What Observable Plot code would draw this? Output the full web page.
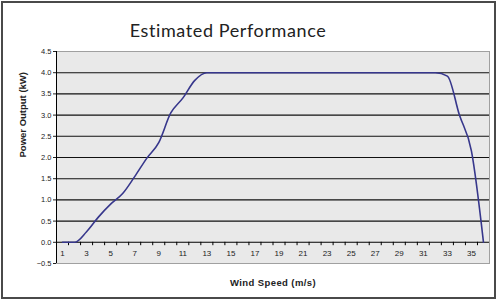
<!DOCTYPE html>
<html><head><meta charset="utf-8">
<script src="https://cdn.jsdelivr.net/npm/d3@7"></script>
<script src="https://cdn.jsdelivr.net/npm/@observablehq/plot@0.6"></script>
<style>
body{margin:0;background:#fff}
#chart svg{display:block;outline:2px solid #4a4a4a;outline-offset:-3px;background:#fff}
.ttl text{letter-spacing:0.6px}
.xl text{letter-spacing:0.4px}
</style>
</head><body><div id="chart"></div>
<script>
const windSpeed = [1,2,3,4,5,6,7,8,9,10,11,12,13,14,15,16,17,18,19,20,21,22,23,24,25,26,27,28,29,30,31,32,33,34,35,36];
const power = [0,0,0.25,0.6,0.9,1.15,1.55,1.98,2.35,3.05,3.4,3.82,4.0,4.0,4.0,4.0,4.0,4.0,4.0,4.0,4.0,4.0,4.0,4.0,4.0,4.0,4.0,4.0,4.0,4.0,4.0,4.0,3.92,3.0,2.15,0];
const xTickLabels = [1,3,5,7,9,11,13,15,17,19,21,23,25,27,29,31,33,35];
const yTicks = [-0.5,0,0.5,1,1.5,2,2.5,3,3.5,4,4.5];
const gridY = [0.5,1,1.5,2,2.5,3,3.5,4];
const title = "Estimated Performance";
const xTitle = "Wind Speed (m/s)";
const yTitle = "Power Output (kW)";

const data = windSpeed.map((w,i)=>({w, p: power[i]}));
const boundaries = windSpeed.map(w => w + 0.5).slice(0, -1);

const chart = Plot.plot({
  width: 497, height: 300,
  marginLeft: 56, marginRight: 8, marginTop: 51, marginBottom: 37,
  x: {domain: [0.5, 36.5], axis: null},
  y: {domain: [-0.5, 4.5], axis: null},
  style: {fontFamily: "'Liberation Sans', Arial, sans-serif", background: "#fff"},
  marks: [
    Plot.frame({fill: "#e9e9e9", stroke: "#a0a0a0"}),
    Plot.ruleY(gridY, {stroke: "#111", strokeWidth: 1.1}),
    Plot.ruleY([0], {stroke: "#000", strokeWidth: 1.1}),
    Plot.ruleX(boundaries, {x: d => d, y1: 0, y2: -0.08, stroke: "#000"}),
    Plot.ruleX([0.5], {stroke: "#000", strokeWidth: 1}),
    Plot.axisY({ticks: yTicks, tickFormat: d3.format(".1f"), tickSize: 3, tickPadding: 2, fontSize: 7.5, color: "#222", label: null}),
    Plot.text(xTickLabels, {x: d => d, y: -0.27, text: d => String(d), fontSize: 8, fill: "#222"}),
    Plot.line(data, {x: "w", y: "p", curve: "monotone-x", stroke: "#37378c", strokeWidth: 1.6}),
    Plot.text([title], {frameAnchor: "top", dx: -45, dy: -20, fontSize: 18, fontFamily: "Lato, 'Open Sans', sans-serif", fill: "#222", lineAnchor: "middle", className: "ttl"}),
    Plot.text([xTitle], {frameAnchor: "bottom", dy: 19, fontSize: 9.5, fontWeight: "bold", fill: "#222", lineAnchor: "middle", className: "xl"}),
    Plot.text([yTitle], {frameAnchor: "left", dx: -34, rotate: -90, fontSize: 9.5, fontWeight: "bold", fill: "#222", lineAnchor: "middle"})
  ]
});
document.getElementById("chart").appendChild(chart);
</script>
</body></html>
